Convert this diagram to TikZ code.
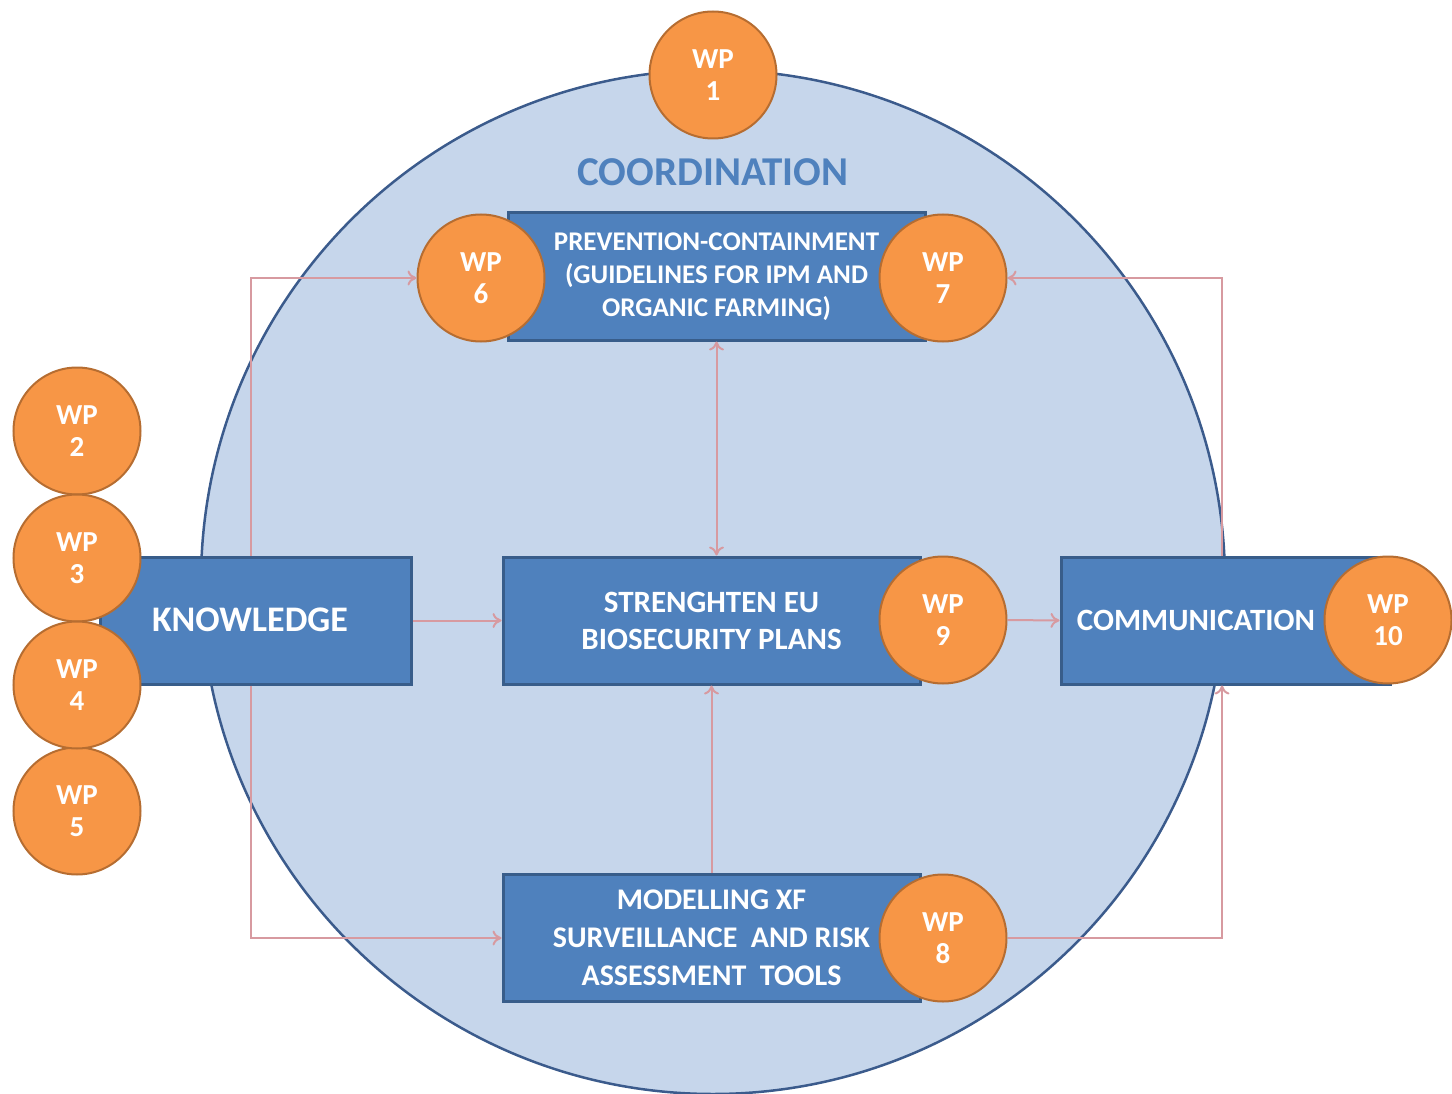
\documentclass[tikz,border=0pt]{standalone}
\usepackage{fontspec}
\setmainfont{Carlito}
\usetikzlibrary{arrows.meta}
\definecolor{bigfill}{HTML}{C6D6EB}
\definecolor{bigline}{HTML}{3B5B8C}
\definecolor{boxfill}{HTML}{4F81BD}
\definecolor{boxline}{HTML}{385D8A}
\definecolor{orfill}{HTML}{F79646}
\definecolor{orline}{HTML}{B66D31}
\definecolor{conn}{HTML}{D79AA0}
\definecolor{coordc}{HTML}{4F81BD}
\begin{document}
\begin{tikzpicture}[x=1pt,y=-1pt,
 wp/.style={circle,fill=orfill,draw=orline,line width=2pt,minimum size=127pt,inner sep=0pt,text=white,font=\fontsize{29}{32}\selectfont\bfseries,align=center},
 bx/.style={rectangle,fill=boxfill,draw=boxline,line width=3pt,inner sep=0pt,text=white,align=center,minimum width=417pt,minimum height=127pt},
 lbl/.style={text=white,align=center,inner sep=0pt},
 cn/.style={draw=conn,line width=2pt,-{To[length=9pt,width=15pt]}},
 cnboth/.style={draw=conn,line width=2pt,{To[length=9pt,width=15pt]}-{To[length=9pt,width=15pt]}},
]
\useasboundingbox (0,0) rectangle (1452,1094);
\node[circle,fill=bigfill,draw=bigline,line width=2.5pt,minimum size=1024pt,inner sep=0pt] (big) at (713,582) {};
\node[text=coordc,font=\fontsize{41}{44}\selectfont\bfseries] (coordtxt) at (713,172) {COORDINATION};
\coordinate (kx) at (251,620);
\coordinate (cx) at (1222,620);
% nodes (boxes)
\node[bx,font=\fontsize{27}{33}\selectfont\bfseries] (prev) at (716.5,276.5) {PREVENTION-CONTAINMENT\\(GUIDELINES FOR IPM AND\\ORGANIC FARMING)};
\node[bx,font=\fontsize{31}{37}\selectfont\bfseries] (mid) at (711.5,620.5) {STRENGHTEN EU\\BIOSECURITY PLANS};
\node[bx,font=\fontsize{30}{38}\selectfont\bfseries] (model) at (711.5,938) {MODELLING XF\\SURVEILLANCE~ AND RISK\\ASSESSMENT~ TOOLS};
\node[bx,minimum width=311pt] (know) at (255.5,620.5) {};
\node[bx,minimum width=329pt] (comm) at (1225.5,620.5) {};
% circles
\node[wp] (wp1) at (713,75) {WP\\1};
\node[wp] (wp6) at (481,278) {WP\\6};
\node[wp] (wp7) at (943,278) {WP\\7};
\node[wp] (wp9) at (943,620) {WP\\9};
\node[wp] (wp8) at (943,938) {WP\\8};
\node[wp] (wp10) at (1388,620) {WP\\10};
\node[wp] (wp2) at (77,431) {WP\\2};
\node[wp] (wp5) at (77,811) {WP\\5};
\node[wp] (wp3) at (77,558) {WP\\3};
\node[wp] (wp4) at (77,685) {WP\\4};
\node[lbl,font=\fontsize{36}{40}\selectfont\bfseries] (knowtxt) at (250,620) {KNOWLEDGE};
\node[lbl,font=\fontsize{31}{36}\selectfont\bfseries] (commtxt) at (1196,620) {COMMUNICATION};
% connectors
\draw[cn] (know.north -| kx) |- (wp6.west);
\draw[cn] (know.south -| kx) |- (model.west);
\draw[cn] (know.east) -- (mid.west);
\draw[cnboth] (prev.south) -- (prev.south |- mid.north);
\draw[cn] (model.north) -- (mid.south);
\draw[cn] (wp9.east) -- (comm.west);
\draw[cn] (wp8.east) -| (comm.south -| cx);
\draw[cn] (comm.north -| cx) |- (wp7.east);
\end{tikzpicture}
\end{document}
